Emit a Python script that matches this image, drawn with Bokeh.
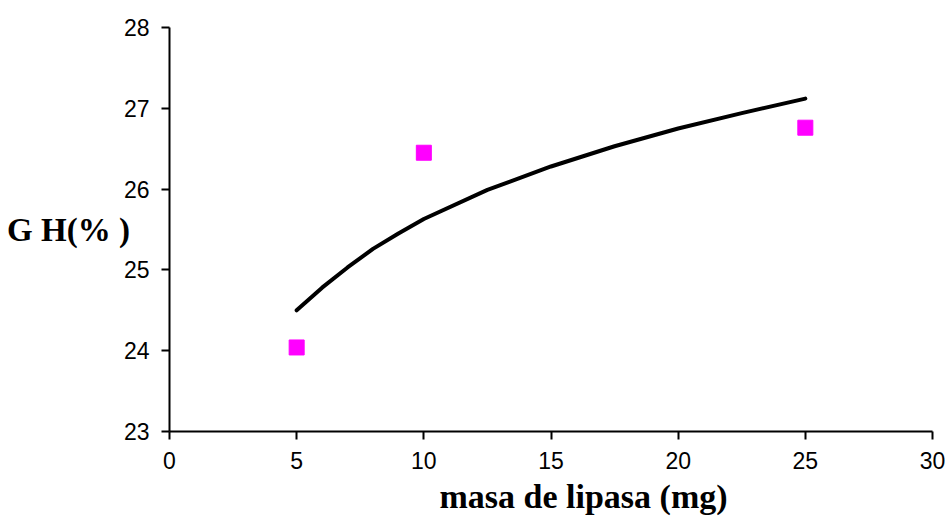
from bokeh.plotting import figure
from bokeh.models import Range1d, FixedTicker, Title
from bokeh.embed import file_html
from bokeh.resources import INLINE

# Measured points
x_points = [5, 10, 25]
y_points = [24.04, 26.45, 26.76]

# Trend curve
x_trend = [5, 6, 7, 8, 9, 10, 12.5, 15, 17.5, 20, 22.5, 25]
y_trend = [24.50, 24.78, 25.03, 25.26, 25.45, 25.63, 25.99, 26.28, 26.53, 26.75, 26.94, 27.12]

x_ticks = [0, 5, 10, 15, 20, 25, 30]
y_ticks = [23, 24, 25, 26, 27, 28]

x_title = "masa de lipasa (mg)"
y_title = "G H(% )"

p = figure(width=945, height=519, output_backend="svg", toolbar_location=None,
           x_range=Range1d(0, 30), y_range=Range1d(23, 28),
           min_border_left=169, min_border_right=13, min_border_top=27, min_border_bottom=87)
p.outline_line_color = None
p.grid.visible = False
p.background_fill_color = "white"
p.border_fill_color = "white"

for ax, ticks in ((p.xaxis, x_ticks), (p.yaxis, y_ticks)):
    ax.ticker = FixedTicker(ticks=ticks)
    ax.axis_line_width = 2
    ax.axis_line_color = "black"
    ax.major_tick_line_width = 2
    ax.major_tick_line_color = "black"
    ax.major_tick_in = 0
    ax.major_tick_out = 8
    ax.minor_tick_line_color = None
    ax.major_label_text_font = "Liberation Sans"
    ax.major_label_text_font_size = "23px"
    ax.major_label_text_color = "black"
p.yaxis.major_label_standoff = 12
p.xaxis.major_label_standoff = 12

p.yaxis.axis_label = y_title
p.yaxis.axis_label_orientation = "horizontal"
p.yaxis.axis_label_standoff = -9
p.yaxis.axis_label_text_font = "Liberation Serif"
p.yaxis.axis_label_text_font_style = "bold"
p.yaxis.axis_label_text_font_size = "33px"
p.yaxis.axis_label_text_color = "black"

p.add_layout(Title(text=x_title, align="left", offset=270, standoff=9,
                   text_font="Liberation Serif", text_font_style="bold",
                   text_font_size="34px", text_color="black"), "below")

p.line(x_trend, y_trend, line_color="black", line_width=4, line_cap="round", line_join="round")
p.scatter(x_points, y_points, marker="square", size=15, fill_color="#FF00FF", line_color="#FF00FF")

open("out.html", "w").write(file_html(p, INLINE))
